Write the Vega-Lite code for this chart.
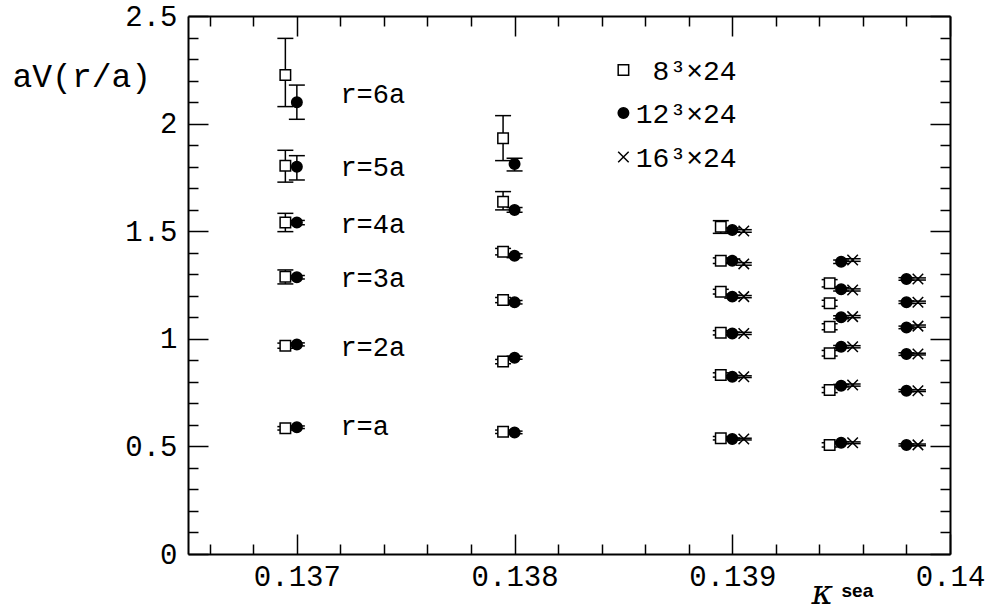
{
  "$schema": "https://vega.github.io/schema/vega-lite/v6.json",
  "width": 762,
  "height": 538,
  "autosize": {"type": "none"},
  "padding": {"left": 188, "top": 16, "right": 37, "bottom": 57},
  "background": "white",
  "config": {
    "view": {"stroke": null},
    "axis": {
      "grid": false,
      "domainColor": "black",
      "domainWidth": 2,
      "tickColor": "black",
      "tickWidth": 1.5,
      "labelColor": "black",
      "titleColor": "black",
      "labelFont": "Liberation Mono",
      "titleFont": "Liberation Mono",
      "titleFontWeight": "normal"
    }
  },
  "datasets": {
    "pts": [
      {"lattice": "8³×24", "kappa": 0.137, "r": 1, "V": 0.584, "lo": 0.576, "hi": 0.592},
      {"lattice": "8³×24", "kappa": 0.137, "r": 2, "V": 0.968, "lo": 0.956, "hi": 0.980},
      {"lattice": "8³×24", "kappa": 0.137, "r": 3, "V": 1.288, "lo": 1.255, "hi": 1.320},
      {"lattice": "8³×24", "kappa": 0.137, "r": 4, "V": 1.540, "lo": 1.498, "hi": 1.583},
      {"lattice": "8³×24", "kappa": 0.137, "r": 5, "V": 1.804, "lo": 1.728, "hi": 1.876},
      {"lattice": "8³×24", "kappa": 0.137, "r": 6, "V": 2.226, "lo": 2.079, "hi": 2.396},
      {"lattice": "8³×24", "kappa": 0.138, "r": 1, "V": 0.568, "lo": 0.560, "hi": 0.576},
      {"lattice": "8³×24", "kappa": 0.138, "r": 2, "V": 0.894, "lo": 0.884, "hi": 0.904},
      {"lattice": "8³×24", "kappa": 0.138, "r": 3, "V": 1.180, "lo": 1.168, "hi": 1.192},
      {"lattice": "8³×24", "kappa": 0.138, "r": 4, "V": 1.405, "lo": 1.390, "hi": 1.420},
      {"lattice": "8³×24", "kappa": 0.138, "r": 5, "V": 1.637, "lo": 1.599, "hi": 1.684},
      {"lattice": "8³×24", "kappa": 0.138, "r": 6, "V": 1.932, "lo": 1.828, "hi": 2.037},
      {"lattice": "8³×24", "kappa": 0.139, "r": 1, "V": 0.538, "lo": 0.530, "hi": 0.546},
      {"lattice": "8³×24", "kappa": 0.139, "r": 2, "V": 0.832, "lo": 0.822, "hi": 0.842},
      {"lattice": "8³×24", "kappa": 0.139, "r": 3, "V": 1.028, "lo": 1.018, "hi": 1.038},
      {"lattice": "8³×24", "kappa": 0.139, "r": 4, "V": 1.219, "lo": 1.208, "hi": 1.230},
      {"lattice": "8³×24", "kappa": 0.139, "r": 5, "V": 1.363, "lo": 1.350, "hi": 1.376},
      {"lattice": "8³×24", "kappa": 0.139, "r": 6, "V": 1.521, "lo": 1.490, "hi": 1.549},
      {"lattice": "8³×24", "kappa": 0.1395, "r": 1, "V": 0.507, "lo": 0.497, "hi": 0.517},
      {"lattice": "8³×24", "kappa": 0.1395, "r": 2, "V": 0.762, "lo": 0.750, "hi": 0.774},
      {"lattice": "8³×24", "kappa": 0.1395, "r": 3, "V": 0.933, "lo": 0.920, "hi": 0.946},
      {"lattice": "8³×24", "kappa": 0.1395, "r": 4, "V": 1.056, "lo": 1.042, "hi": 1.070},
      {"lattice": "8³×24", "kappa": 0.1395, "r": 5, "V": 1.165, "lo": 1.151, "hi": 1.179},
      {"lattice": "8³×24", "kappa": 0.1395, "r": 6, "V": 1.258, "lo": 1.241, "hi": 1.275},
      {"lattice": "12³×24", "kappa": 0.137, "r": 1, "V": 0.589, "lo": 0.583, "hi": 0.595},
      {"lattice": "12³×24", "kappa": 0.137, "r": 2, "V": 0.974, "lo": 0.967, "hi": 0.981},
      {"lattice": "12³×24", "kappa": 0.137, "r": 3, "V": 1.286, "lo": 1.278, "hi": 1.294},
      {"lattice": "12³×24", "kappa": 0.137, "r": 4, "V": 1.540, "lo": 1.530, "hi": 1.550},
      {"lattice": "12³×24", "kappa": 0.137, "r": 5, "V": 1.800, "lo": 1.738, "hi": 1.851},
      {"lattice": "12³×24", "kappa": 0.137, "r": 6, "V": 2.099, "lo": 2.020, "hi": 2.179},
      {"lattice": "12³×24", "kappa": 0.138, "r": 1, "V": 0.565, "lo": 0.559, "hi": 0.571},
      {"lattice": "12³×24", "kappa": 0.138, "r": 2, "V": 0.912, "lo": 0.905, "hi": 0.919},
      {"lattice": "12³×24", "kappa": 0.138, "r": 3, "V": 1.170, "lo": 1.162, "hi": 1.178},
      {"lattice": "12³×24", "kappa": 0.138, "r": 4, "V": 1.386, "lo": 1.377, "hi": 1.395},
      {"lattice": "12³×24", "kappa": 0.138, "r": 5, "V": 1.599, "lo": 1.588, "hi": 1.610},
      {"lattice": "12³×24", "kappa": 0.138, "r": 6, "V": 1.812, "lo": 1.780, "hi": 1.839},
      {"lattice": "12³×24", "kappa": 0.139, "r": 1, "V": 0.534, "lo": 0.529, "hi": 0.539},
      {"lattice": "12³×24", "kappa": 0.139, "r": 2, "V": 0.824, "lo": 0.818, "hi": 0.830},
      {"lattice": "12³×24", "kappa": 0.139, "r": 3, "V": 1.025, "lo": 1.019, "hi": 1.031},
      {"lattice": "12³×24", "kappa": 0.139, "r": 4, "V": 1.196, "lo": 1.189, "hi": 1.203},
      {"lattice": "12³×24", "kappa": 0.139, "r": 5, "V": 1.363, "lo": 1.355, "hi": 1.371},
      {"lattice": "12³×24", "kappa": 0.139, "r": 6, "V": 1.506, "lo": 1.497, "hi": 1.515},
      {"lattice": "12³×24", "kappa": 0.1395, "r": 1, "V": 0.517, "lo": 0.512, "hi": 0.522},
      {"lattice": "12³×24", "kappa": 0.1395, "r": 2, "V": 0.782, "lo": 0.776, "hi": 0.788},
      {"lattice": "12³×24", "kappa": 0.1395, "r": 3, "V": 0.963, "lo": 0.957, "hi": 0.969},
      {"lattice": "12³×24", "kappa": 0.1395, "r": 4, "V": 1.100, "lo": 1.093, "hi": 1.107},
      {"lattice": "12³×24", "kappa": 0.1395, "r": 5, "V": 1.230, "lo": 1.222, "hi": 1.238},
      {"lattice": "12³×24", "kappa": 0.1395, "r": 6, "V": 1.358, "lo": 1.350, "hi": 1.366},
      {"lattice": "12³×24", "kappa": 0.1398, "r": 1, "V": 0.507, "lo": 0.502, "hi": 0.512},
      {"lattice": "12³×24", "kappa": 0.1398, "r": 2, "V": 0.759, "lo": 0.754, "hi": 0.764},
      {"lattice": "12³×24", "kappa": 0.1398, "r": 3, "V": 0.929, "lo": 0.923, "hi": 0.935},
      {"lattice": "12³×24", "kappa": 0.1398, "r": 4, "V": 1.053, "lo": 1.047, "hi": 1.059},
      {"lattice": "12³×24", "kappa": 0.1398, "r": 5, "V": 1.170, "lo": 1.164, "hi": 1.176},
      {"lattice": "12³×24", "kappa": 0.1398, "r": 6, "V": 1.278, "lo": 1.272, "hi": 1.284},
      {"lattice": "16³×24", "kappa": 0.139, "r": 1, "V": 0.534, "lo": 0.530, "hi": 0.538},
      {"lattice": "16³×24", "kappa": 0.139, "r": 2, "V": 0.824, "lo": 0.820, "hi": 0.828},
      {"lattice": "16³×24", "kappa": 0.139, "r": 3, "V": 1.025, "lo": 1.020, "hi": 1.030},
      {"lattice": "16³×24", "kappa": 0.139, "r": 4, "V": 1.196, "lo": 1.191, "hi": 1.201},
      {"lattice": "16³×24", "kappa": 0.139, "r": 5, "V": 1.348, "lo": 1.342, "hi": 1.354},
      {"lattice": "16³×24", "kappa": 0.139, "r": 6, "V": 1.501, "lo": 1.495, "hi": 1.507},
      {"lattice": "16³×24", "kappa": 0.1395, "r": 1, "V": 0.517, "lo": 0.513, "hi": 0.521},
      {"lattice": "16³×24", "kappa": 0.1395, "r": 2, "V": 0.785, "lo": 0.780, "hi": 0.790},
      {"lattice": "16³×24", "kappa": 0.1395, "r": 3, "V": 0.963, "lo": 0.958, "hi": 0.968},
      {"lattice": "16³×24", "kappa": 0.1395, "r": 4, "V": 1.103, "lo": 1.098, "hi": 1.108},
      {"lattice": "16³×24", "kappa": 0.1395, "r": 5, "V": 1.227, "lo": 1.222, "hi": 1.232},
      {"lattice": "16³×24", "kappa": 0.1395, "r": 6, "V": 1.366, "lo": 1.360, "hi": 1.372},
      {"lattice": "16³×24", "kappa": 0.1398, "r": 1, "V": 0.507, "lo": 0.503, "hi": 0.511},
      {"lattice": "16³×24", "kappa": 0.1398, "r": 2, "V": 0.759, "lo": 0.755, "hi": 0.763},
      {"lattice": "16³×24", "kappa": 0.1398, "r": 3, "V": 0.929, "lo": 0.925, "hi": 0.933},
      {"lattice": "16³×24", "kappa": 0.1398, "r": 4, "V": 1.059, "lo": 1.054, "hi": 1.064},
      {"lattice": "16³×24", "kappa": 0.1398, "r": 5, "V": 1.170, "lo": 1.165, "hi": 1.175},
      {"lattice": "16³×24", "kappa": 0.1398, "r": 6, "V": 1.278, "lo": 1.273, "hi": 1.283}
    ],
    "labels": [
      {"label": "r=6a", "kappa": 0.1372, "V": 2.133},
      {"label": "r=5a", "kappa": 0.1372, "V": 1.792},
      {"label": "r=4a", "kappa": 0.1372, "V": 1.529},
      {"label": "r=3a", "kappa": 0.1372, "V": 1.278},
      {"label": "r=2a", "kappa": 0.1372, "V": 0.956},
      {"label": "r=a", "kappa": 0.1372, "V": 0.589}
    ],
    "key": [
      {"lattice": "8³×24", "kx": 0.1385, "tx": 0.13902, "ky": 2.249},
      {"lattice": "12³×24", "kx": 0.1385, "tx": 0.13902, "ky": 2.049},
      {"lattice": "16³×24", "kx": 0.1385, "tx": 0.13902, "ky": 1.845}
    ]
  },
  "layer": [
    {
      "data": {"name": "pts"},
      "mark": {"type": "rule", "color": "black", "strokeWidth": 1.5,
               "xOffset": {"expr": "datum.lattice == '8³×24' ? -11.5 : (datum.lattice == '16³×24' ? 11.5 : 0)"}},
      "encoding": {
        "x": {"field": "kappa", "type": "quantitative",
              "scale": {"domain": [0.1365, 0.14], "nice": false, "zero": false},
              "axis": {"orient": "bottom", "values": [0.1366, 0.1368, 0.1372, 0.1374, 0.1376, 0.1378, 0.1382, 0.1384, 0.1386, 0.1388, 0.1392, 0.1394, 0.1396, 0.1398],
                       "tickSize": -10, "labels": false, "domain": false,
                       "title": "sea", "titleFont": "Liberation Sans", "titleFontWeight": "bold", "titleFontSize": 19,
                       "titleX": 653, "titleY": 42, "titleAlign": "left", "titleBaseline": "alphabetic", "titleAngle": 0}},
        "y": {"field": "lo", "type": "quantitative",
              "scale": {"domain": [0, 2.5], "nice": false, "zero": false},
              "axis": {"orient": "left", "values": [0.1, 0.2, 0.3, 0.4, 0.6, 0.7, 0.8, 0.9, 1.1, 1.2, 1.3, 1.4, 1.6, 1.7, 1.8, 1.9, 2.1, 2.2, 2.3, 2.4],
                       "tickSize": -10, "labels": false, "domain": false, "title": null}},
        "y2": {"field": "hi"}
      }
    },
    {
      "data": {"name": "pts"},
      "mark": {"type": "tick", "orient": "horizontal", "size": 16, "thickness": 1.5, "color": "black", "opacity": 1,
               "xOffset": {"expr": "datum.lattice == '8³×24' ? -11.5 : (datum.lattice == '16³×24' ? 11.5 : 0)"}},
      "encoding": {
        "x": {"field": "kappa", "type": "quantitative",
              "scale": {"domain": [0.1365, 0.14], "nice": false, "zero": false},
              "axis": {"orient": "top", "values": [0.1366, 0.1368, 0.1372, 0.1374, 0.1376, 0.1378, 0.1382, 0.1384, 0.1386, 0.1388, 0.1392, 0.1394, 0.1396, 0.1398],
                       "tickSize": -10, "labels": false, "domain": false, "title": null}},
        "y": {"field": "lo", "type": "quantitative",
              "scale": {"domain": [0, 2.5], "nice": false, "zero": false},
              "axis": {"orient": "right", "values": [0.1, 0.2, 0.3, 0.4, 0.6, 0.7, 0.8, 0.9, 1.1, 1.2, 1.3, 1.4, 1.6, 1.7, 1.8, 1.9, 2.1, 2.2, 2.3, 2.4],
                       "tickSize": -10, "labels": false, "domain": false, "title": null}}
      }
    },
    {
      "data": {"name": "pts"},
      "mark": {"type": "tick", "orient": "horizontal", "size": 16, "thickness": 1.5, "color": "black", "opacity": 1,
               "xOffset": {"expr": "datum.lattice == '8³×24' ? -11.5 : (datum.lattice == '16³×24' ? 11.5 : 0)"}},
      "encoding": {
        "x": {"field": "kappa", "type": "quantitative",
              "scale": {"domain": [0.1365, 0.14], "nice": false, "zero": false},
              "axis": {"orient": "top", "values": [0.137, 0.138, 0.139, 0.14],
                       "tickSize": -20, "labels": false, "domain": true, "title": null}},
        "y": {"field": "hi", "type": "quantitative",
              "scale": {"domain": [0, 2.5], "nice": false, "zero": false},
              "axis": {"orient": "right", "values": [0, 0.5, 1, 1.5, 2, 2.5],
                       "tickSize": -20, "labels": false, "domain": true, "title": null}}
      }
    },
    {
      "data": {"name": "pts"},
      "mark": {"type": "point", "size": 110, "strokeWidth": 1.5, "opacity": 1,
               "xOffset": {"expr": "datum.lattice == '8³×24' ? -11.5 : (datum.lattice == '16³×24' ? 11.5 : 0)"}},
      "encoding": {
        "x": {"field": "kappa", "type": "quantitative",
              "scale": {"domain": [0.1365, 0.14], "nice": false, "zero": false},
              "axis": {"orient": "bottom", "values": [0.137, 0.138, 0.139, 0.14], "format": "~g",
                       "tickSize": -20, "labelFontSize": 29, "labelPadding": 28, "labelFlush": false,
                       "title": "κ", "titleFont": "DejaVu Serif", "titleFontStyle": "italic", "titleFontSize": 33,
                       "titleX": 623, "titleY": 49, "titleAlign": "left", "titleBaseline": "alphabetic", "titleAngle": 0}},
        "y": {"field": "V", "type": "quantitative",
              "scale": {"domain": [0, 2.5], "nice": false, "zero": false},
              "axis": {"orient": "left", "values": [0, 0.5, 1, 1.5, 2, 2.5], "format": "~g",
                       "tickSize": -20, "labelFontSize": 29, "labelPadding": 31, "labelFlush": false,
                       "title": "aV(r/a)", "titleFontSize": 33, "titleAngle": 0,
                       "titleX": -176, "titleY": 70, "titleAlign": "left", "titleBaseline": "alphabetic"}},
        "shape": {"field": "lattice", "type": "nominal",
                  "scale": {"domain": ["8³×24", "12³×24", "16³×24"], "range": ["square", "circle", "M-1,-1L1,1M1,-1L-1,1"]},
                  "legend": null},
        "fill": {"field": "lattice", "type": "nominal",
                 "scale": {"domain": ["8³×24", "12³×24", "16³×24"], "range": ["white", "black", "transparent"]},
                 "legend": null},
        "stroke": {"value": "black"}
      }
    },
    {
      "data": {"name": "key"},
      "mark": {"type": "point", "size": 110, "strokeWidth": 1.5, "opacity": 1},
      "encoding": {
        "x": {"field": "kx", "type": "quantitative", "axis": null},
        "y": {"field": "ky", "type": "quantitative", "axis": null},
        "shape": {"field": "lattice", "type": "nominal", "legend": null},
        "fill": {"field": "lattice", "type": "nominal", "legend": null},
        "stroke": {"value": "black"}
      }
    },
    {
      "data": {"name": "key"},
      "mark": {"type": "text", "font": "Liberation Mono", "fontSize": 28, "align": "right", "baseline": "middle", "color": "black", "dy": 2},
      "encoding": {
        "x": {"field": "tx", "type": "quantitative", "axis": null},
        "y": {"field": "ky", "type": "quantitative", "axis": null},
        "text": {"field": "lattice"}
      }
    },
    {
      "data": {"name": "labels"},
      "mark": {"type": "text", "font": "Liberation Mono", "fontSize": 27, "align": "left", "baseline": "middle", "color": "black"},
      "encoding": {
        "x": {"field": "kappa", "type": "quantitative", "axis": null},
        "y": {"field": "V", "type": "quantitative", "axis": null},
        "text": {"field": "label"}
      }
    }
  ],
  "resolve": {"axis": {"x": "independent", "y": "independent"}}
}
